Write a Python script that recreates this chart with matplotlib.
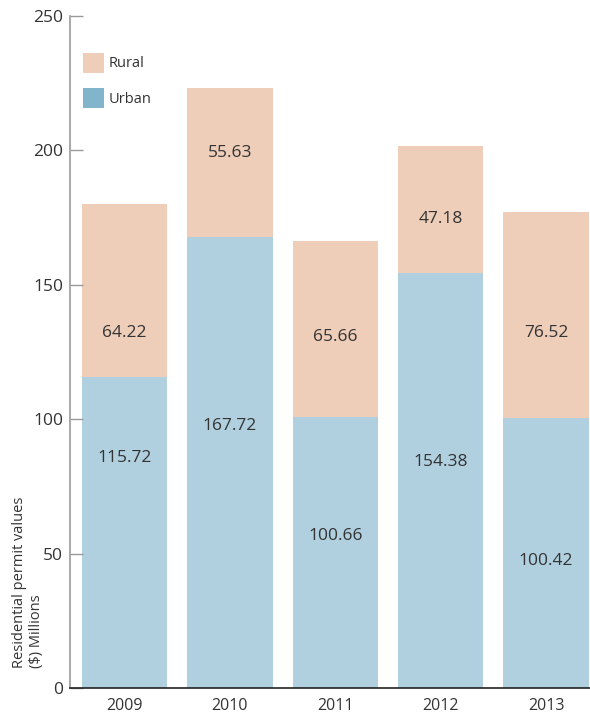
import matplotlib.pyplot as plt
from matplotlib.patches import Patch
import numpy as np

plt.rcParams['font.family'] = ['Open Sans', 'DejaVu Sans']

years = ['2009', '2010', '2011', '2012', '2013']
urban = [115.72, 167.72, 100.66, 154.38, 100.42]
rural = [64.22, 55.63, 65.66, 47.18, 76.52]
# heights where the value labels sit in the original
urban_label_y = [85.6, 97.5, 56.5, 84.1, 47.2]
rural_label_y = [132.0, 199.0, 130.6, 174.5, 132.0]

rural_color = '#eecdb9'
urban_color = '#b0d0e0'
urban_legend_color = '#82b4cc'
text_color = '#333333'

fig = plt.figure(figsize=(5.90, 7.13), dpi=100)
ax = fig.add_axes([70 / 590, 1 - 688 / 713, 1 - 70 / 590, 672 / 713])

x = np.arange(len(years))
ax.bar(x, urban, width=0.81, color=urban_color, linewidth=0)
ax.bar(x, rural, width=0.81, bottom=urban, color=rural_color, linewidth=0)

for i in range(len(years)):
    ax.text(x[i], urban_label_y[i], f'{urban[i]:.2f}', ha='center', va='center',
            fontsize=12.5, color=text_color)
    ax.text(x[i], rural_label_y[i], f'{rural[i]:.2f}', ha='center', va='center',
            fontsize=12.5, color=text_color)

ax.set_xlim(-0.517, 4.417)
ax.set_ylim(0, 250)
ax.set_yticks([0, 50, 100, 150, 200, 250])
ax.set_xticks(x)
ax.set_xticklabels(years)

for s in ['top', 'right']:
    ax.spines[s].set_visible(False)
ax.spines['left'].set_color('#999999')
ax.spines['left'].set_linewidth(1.2)
ax.spines['bottom'].set_color('#222222')
ax.spines['bottom'].set_linewidth(1.2)

ax.tick_params(axis='y', direction='in', length=9, width=1, color='#999999',
               labelsize=12.5, labelcolor=text_color, pad=5)
ax.tick_params(axis='x', length=0, labelsize=11.5, labelcolor=text_color, pad=7)

handles = [Patch(facecolor=rural_color, edgecolor='none', label='Rural'),
           Patch(facecolor=urban_legend_color, edgecolor='none', label='Urban')]
ax.legend(handles=handles, loc='upper left', bbox_to_anchor=(0.0, 0.965),
          frameon=False, fontsize=10.5, handlelength=1.45, handleheight=1.75,
          handletextpad=0.3, labelspacing=1.05, labelcolor=text_color)

fig.text(28 / 590, 1 - 668 / 713, 'Residential permit values\n($) Millions',
         rotation=90, ha='center', va='bottom', multialignment='left',
         fontsize=10.5, color=text_color, linespacing=1.1)

fig.savefig('out.png', dpi=100)
